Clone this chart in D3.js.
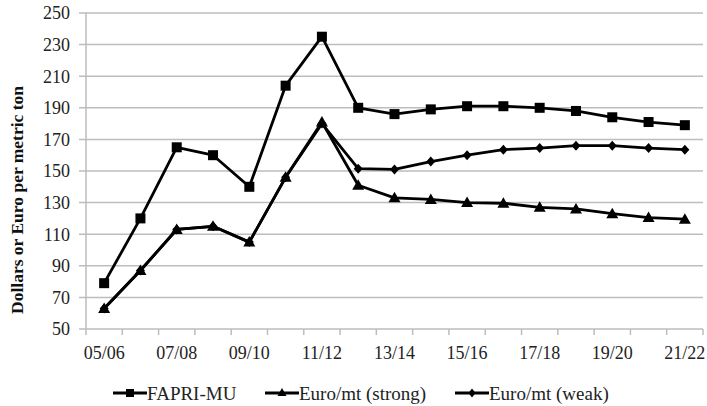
<!DOCTYPE html>
<html><head><meta charset="utf-8">
<script src="https://cdn.jsdelivr.net/npm/d3@7"></script>
<style>body{margin:0;background:#fff} svg text{font-family:"Liberation Serif","Times New Roman","DejaVu Serif",serif;}</style>
</head><body>
<svg id="c" width="707" height="406"></svg>
<script>
const categories = ["05/06","06/07","07/08","08/09","09/10","10/11","11/12","12/13","13/14","14/15","15/16","16/17","17/18","18/19","19/20","20/21","21/22"];
const fapri  = [79,120,165,160,140,204,235,190,186,189,191,191,190,188,184,181,179];
const strong = [63,87,113,115,105,146,181,141,133,132,130,129.6,127,126,123,120.5,119.5];
const weak   = [63,87,113,115,105,146,180,151.5,151,156,160,163.5,164.5,166,166,164.5,163.5];
const yTicks = [50,70,90,110,130,150,170,190,210,230,250];
const xLabels = ["05/06","07/08","09/10","11/12","13/14","15/16","17/18","19/20","21/22"];
const seriesNames = ["FAPRI-MU","Euro/mt (strong)","Euro/mt (weak)"];

const svg = d3.select("#c");
const L = 86, R = 703, T = 13, B = 329;
const x = d3.scaleBand().domain(categories).range([L, R]);
const y = d3.scaleLinear().domain([50, 250]).range([B, T]);

svg.append("g").selectAll("line").data(yTicks).join("line")
  .attr("x1", L - 7).attr("x2", R).attr("y1", d => y(d)).attr("y2", d => y(d))
  .attr("stroke", "#bdbdbd").attr("stroke-width", 1.5);
svg.append("line").attr("x1", L).attr("x2", L).attr("y1", T).attr("y2", B)
  .attr("stroke", "#bdbdbd").attr("stroke-width", 1.5);
const bounds = categories.map(c => x(c)).concat([R]);
svg.append("g").selectAll("line").data(bounds).join("line")
  .attr("x1", d => d).attr("x2", d => d).attr("y1", B).attr("y2", B + 6)
  .attr("stroke", "#bdbdbd").attr("stroke-width", 1.5);

svg.append("g").selectAll("text").data(yTicks).join("text")
  .attr("x", 70).attr("y", d => y(d)).attr("dy", "0.35em")
  .attr("text-anchor", "end").attr("font-size", 18)
  .attr("fill", "#222").text(d => d);
svg.append("g").selectAll("text").data(xLabels).join("text")
  .attr("x", d => x(d) + x.bandwidth() / 2).attr("y", 359)
  .attr("text-anchor", "middle").attr("font-size", 18)
  .attr("fill", "#222").text(d => d);
svg.append("text").attr("transform", "translate(23,200) rotate(-90)")
  .attr("text-anchor", "middle").attr("font-size", 17.5)
  .attr("font-weight", "bold").attr("fill", "#111").text("Dollars or Euro per metric ton");

const cx = c => x(c) + x.bandwidth() / 2;
const line = d3.line().x((d, i) => cx(categories[i])).y(d => y(d));

function marker(g, type, px, py) {
  if (type === "square") {
    g.append("rect").attr("x", px - 5).attr("y", py - 5).attr("width", 10).attr("height", 10).attr("fill", "#000");
  } else if (type === "triangle") {
    g.append("path").attr("d", `M${px},${py - 6}L${px + 6},${py + 4.5}L${px - 6},${py + 4.5}Z`).attr("fill", "#000");
  } else {
    g.append("path").attr("d", `M${px},${py - 5}L${px + 4.5},${py}L${px},${py + 5}L${px - 4.5},${py}Z`).attr("fill", "#000");
  }
}

const series = [
  {name: seriesNames[0], vals: fapri, m: "square"},
  {name: seriesNames[2], vals: weak, m: "diamond"},
  {name: seriesNames[1], vals: strong, m: "triangle"}
];
series.forEach(s => {
  const g = svg.append("g");
  g.append("path").attr("d", line(s.vals)).attr("fill", "none")
    .attr("stroke", "#000").attr("stroke-width", 2.8).attr("stroke-linejoin", "round");
  s.vals.forEach((v, i) => marker(g, s.m, cx(categories[i]), y(v)));
});

const leg = [
  {name: seriesNames[0], m: "square", x: 113},
  {name: seriesNames[1], m: "triangle", x: 265},
  {name: seriesNames[2], m: "diamond", x: 455}
];
leg.forEach(l => {
  const g = svg.append("g");
  const ly = 393;
  g.append("line").attr("x1", l.x).attr("x2", l.x + 34).attr("y1", ly).attr("y2", ly)
    .attr("stroke", "#000").attr("stroke-width", 3);
  const m = l.x + 17;
  if (l.m === "square") g.append("rect").attr("x", m - 4).attr("y", ly - 4).attr("width", 8).attr("height", 8).attr("fill", "#000");
  else if (l.m === "triangle") g.append("path").attr("d", `M${m},${ly - 5}L${m + 4.5},${ly + 3}L${m - 4.5},${ly + 3}Z`).attr("fill", "#000");
  else g.append("path").attr("d", `M${m},${ly - 4.5}L${m + 3.5},${ly}L${m},${ly + 4.5}L${m - 3.5},${ly}Z`).attr("fill", "#000");
  g.append("text").attr("x", l.x + 34).attr("y", ly).attr("dy", "0.35em")
    .attr("font-size", 19).attr("fill", "#222").text(l.name);
});
</script>
</body></html>
